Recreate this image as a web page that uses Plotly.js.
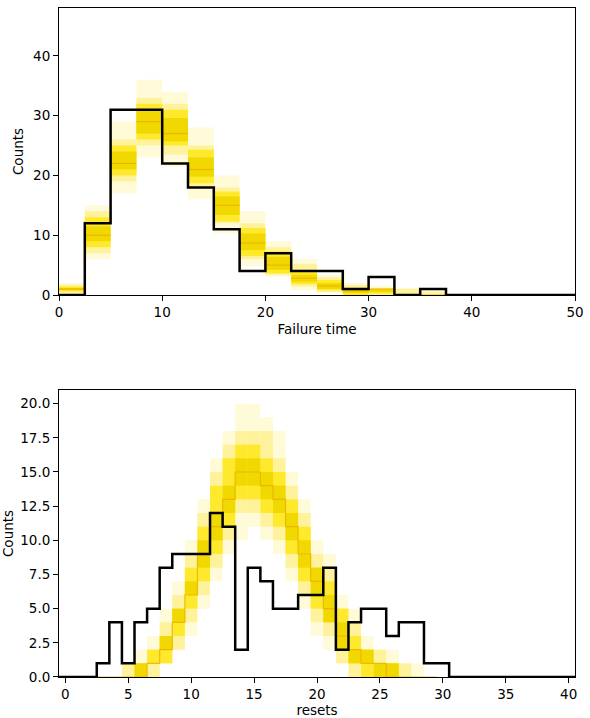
<!DOCTYPE html>
<html>
<head>
<meta charset="utf-8">
<script src="https://cdn.plot.ly/plotly-3.0.1.min.js"></script>
<style>html,body{margin:0;padding:0;background:#fff;}#chart{width:590px;height:718px;}</style>
</head>
<body>
<div id="chart"></div>
<script>
// ---------- Top panel: Failure time ----------
const topEdges = [0,2.5,5,7.5,10,12.5,15,17.5,20,22.5,25,27.5,30,32.5,35,37.5,40,42.5,45,47.5,50];
const topObserved = [0,12,31,31,22,18,11,4,7,4,4,1,3,0,1,0,0,0,0,0];
const topBandCenters = [1.25,3.75,6.25,8.75,11.25,13.75,16.25,18.75,21.25,23.75,26.25,28.75,31.25,33.75,36.25];
const topOuterLo  = [0,   6,  17, 23, 21.5, 16,   10.3, 4.8, 3,   0.8, 0.3, 0,   0,   0,   0];
const topOuterHi  = [2,   15, 29, 36, 34,   28,   20,   14,  9,   6,   3.4, 2,   1.5, 1.2, 1];
const topLightLo  = [0.3, 7,  19, 25, 23.5, 18,   12,   6,   3.4, 1.4, 0.5, 0,   0,   0,   0];
const topLightHi  = [1.7, 14, 26, 33, 32,   25,   18,   12,  8,   5.2, 3,   1.7, 1.2, 1,   0.5];
const topBrightLo = [0.6, 8,  20, 26, 25,   18.7, 12.3, 6.5, 3.6, 1.8, 0.8, 0,   0.2, 0,   0];
const topBrightHi = [1.4, 13, 25, 32, 31,   24.3, 17.3, 11.2,7.3, 4.2, 2.5, 1.2, 1,   0,   0];
const topDarkLo   = [0.8, 9,  21, 27, 25.7, 19.8, 13.4, 7.5, 4.2, 2.2, 1,   0.3, 0.5, 0,   0];
const topDarkHi   = [1.2, 11.5,24, 31, 29.6, 23,  16.5, 10.3,6.4, 3.4, 2,   1,   1,   0,   0];
const topMedian   = [1,   10, 22, 29, 27,   21,   15,   8.7, 5,   2.8, 1.5, 0.7, 1,   0,   0];

// ---------- Bottom panel: resets ----------
const botEdges = [-0.5,0.5,1.5,2.5,3.5,4.5,5.5,6.5,7.5,8.5,9.5,10.5,11.5,12.5,13.5,14.5,15.5,16.5,17.5,18.5,19.5,20.5,21.5,22.5,23.5,24.5,25.5,26.5,27.5,28.5,29.5,30.5,31.5,32.5,33.5,34.5,35.5,36.5,37.5,38.5,39.5,40.5];
const botObserved = [0,0,0,1,4,1,4,5,8,9,9,9,12,11,2,8,7,5,5,6,6,8,2,4,5,5,3,4,4,1,1,0,0,0,0,0,0,0,0,0,0];
const botBandCenters = [3,4,5,6,7,8,9,10,11,12,13,14,15,16,17,18,19,20,21,22,23,24,25,26,27,28,29];
const botOuterLo  = [0,0,0,0,0,1,2,3,5,7,9,10,11,10,9,7,5,3,2,1,0,0,0,0,0,0,0];
const botOuterHi  = [0,0,1,2,3,5,7,10,13,16,18,20,20,19,18,15,13,10,9,6,5,3,2,2,1,1,0];
const botLightLo  = [0,0,0,0,0,1,2,4,6,8,10,12,12,11,10,8,6,4,3,1,0,0,0,0,0,0,0];
const botLightHi  = [0,0,1,1,2,4,6,9,12,15,17,18,18,18,16,14,12,9,8,5,4,2,2,1,1,0,0];
const botBrightLo = [0,0,0,0,1,1,3,5,7,9,11,13,13,12,11,9,7,5,4,2,1,0,0,0,0,0,0];
const botBrightHi = [0,0,0,1,2,3,5,8,11,14,16,17,17,16,15,13,11,8,7,5,3,2,1,1,0,0,0];
const botDarkLo   = [0,0,0,0,1,2,4,6,8,10,12,14,14,13,12,10,8,6,4,2,1,1,0,0,0,0,0];
const botDarkHi   = [0,0,0,1,1,3,5,7,10,12,14,16,16,15,14,12,10,8,6,4,2,2,1,1,0,0,0];
const botMedian   = [0,0,0,0,1,2,4,6,9,11,13,15,15,14,13,11,9,7,5,3,2,1,1,0,0,0,0];

const COLORS = {outer:'#fffad8', light:'#fff29c', bright:'#ffe92c', dark:'#f0d800', median:'rgba(236,178,0,0.85)', obs:'#000000'};

function band(centers, lo, hi, color, width, xa, ya){
  return {type:'bar', x:centers, y:hi.map((h,i)=>h-lo[i]), base:lo, width:width,
    marker:{color:color, line:{width:0}}, xaxis:xa, yaxis:ya, showlegend:false, hoverinfo:'skip'};
}
function stepLine(edges, vals, color, w, xa, ya){
  return {type:'scatter', mode:'lines', x:edges, y:vals.concat([vals[vals.length-1]]),
    line:{shape:'hv', color:color, width:w}, xaxis:xa, yaxis:ya, showlegend:false, hoverinfo:'skip'};
}
function segments(centers, vals, width, color, w, xa, ya){
  const x=[], y=[];
  centers.forEach((c,i)=>{ x.push(c-width/2, c+width/2, null); y.push(vals[i], vals[i], null); });
  return {type:'scatter', mode:'lines', x:x, y:y, line:{color:color, width:w}, xaxis:xa, yaxis:ya, showlegend:false, hoverinfo:'skip'};
}
const botMedEdges = botBandCenters.map(c=>c-0.5).concat([botBandCenters[botBandCenters.length-1]+0.5]);

const traces = [
  band(topBandCenters, topOuterLo, topOuterHi, COLORS.outer, 2.5, 'x', 'y'),
  band(topBandCenters, topLightLo, topLightHi, COLORS.light, 2.5, 'x', 'y'),
  band(topBandCenters, topBrightLo, topBrightHi, COLORS.bright, 2.5, 'x', 'y'),
  band(topBandCenters, topDarkLo, topDarkHi, COLORS.dark, 2.5, 'x', 'y'),
  segments(topBandCenters, topMedian, 2.5, COLORS.median, 1.2, 'x', 'y'),
  stepLine(topEdges, topObserved, COLORS.obs, 2.5, 'x', 'y'),

  band(botBandCenters, botOuterLo, botOuterHi, COLORS.outer, 1, 'x2', 'y2'),
  band(botBandCenters, botLightLo, botLightHi, COLORS.light, 1, 'x2', 'y2'),
  band(botBandCenters, botBrightLo, botBrightHi, COLORS.bright, 1, 'x2', 'y2'),
  band(botBandCenters, botDarkLo, botDarkHi, COLORS.dark, 1, 'x2', 'y2'),
  stepLine(botMedEdges, botMedian, COLORS.median, 1.2, 'x2', 'y2'),
  stepLine(botEdges, botObserved, COLORS.obs, 2.5, 'x2', 'y2')
];

const FONT = {family:'DejaVu Sans', size:13.5, color:'#000'};
const axisBase = {showline:true, mirror:true, linecolor:'#000', linewidth:1, ticks:'outside', ticklen:5, tickwidth:1, tickcolor:'#000',
  showgrid:false, zeroline:false, tickfont:FONT};

const layout = {
  width:590, height:718, margin:{l:59, r:15, t:8, b:41}, paper_bgcolor:'#fff', plot_bgcolor:'#fff',
  barmode:'overlay', showlegend:false, font:FONT,
  xaxis: Object.assign({}, axisBase, {anchor:'y', domain:[0,1], range:[0,50], tickvals:[0,10,20,30,40,50], ticktext:['0','10','20','30','40','50'],
    title:{text:'Failure time', font:FONT, standoff:5}}),
  yaxis: Object.assign({}, axisBase, {anchor:'x', domain:[0.571,1], range:[0,48], tickvals:[0,10,20,30,40], ticktext:['0','10','20','30','40'],
    title:{text:'Counts', font:FONT, standoff:6}}),
  xaxis2: Object.assign({}, axisBase, {anchor:'y2', domain:[0,1], range:[-0.5,40.5], tickvals:[0,5,10,15,20,25,30,35,40], ticktext:['0','5','10','15','20','25','30','35','40'],
    title:{text:'resets', font:FONT, standoff:5}}),
  yaxis2: Object.assign({}, axisBase, {anchor:'x2', domain:[0,0.429], range:[0,21], tickvals:[0,2.5,5,7.5,10,12.5,15,17.5,20], ticktext:['0.0','2.5','5.0','7.5','10.0','12.5','15.0','17.5','20.0'],
    title:{text:'Counts', font:FONT, standoff:6}})
};

Plotly.newPlot('chart', traces, layout, {staticPlot:true, displayModeBar:false});
</script>
</body>
</html>
